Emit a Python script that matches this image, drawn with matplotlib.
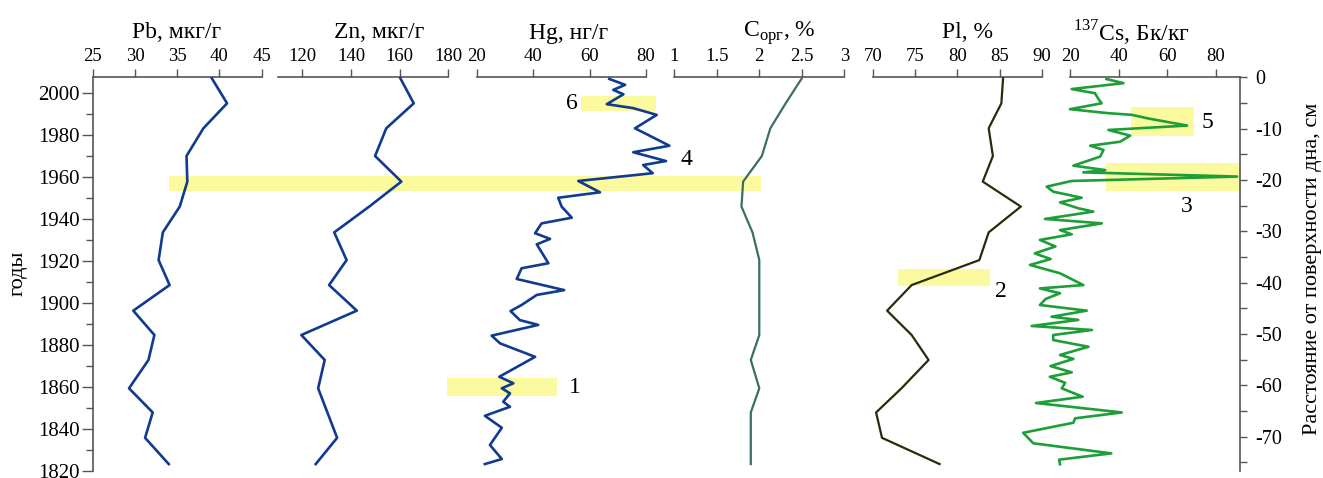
#----------------------------------------------------------------------
#  perfil de sedimento: Pb, Zn, Hg, C org, Pl, 137Cs x anos / profundidade
#----------------------------------------------------------------------
import matplotlib.pyplot as plt
from matplotlib.patches import Rectangle
import matplotlib.transforms as mtransforms

plt.rcParams['font.family'] = ['Liberation Serif', 'DejaVu Serif']
plt.rcParams['mathtext.fontset'] = 'custom'
plt.rcParams['mathtext.rm'] = 'Liberation Serif'
plt.rcParams['axes.unicode_minus'] = False

# amostras a cada 5 cm (anos lidos no eixo esquerdo)
anos_5cm = [2007.1, 1995.2, 1983.3, 1970.1, 1957.9, 1946.0, 1933.7, 1920.5,
            1908.6, 1896.4, 1884.8, 1872.9, 1859.4, 1847.9, 1835.8, 1823.3]
pb = [39.1, 40.9, 38.1, 36.1, 36.2, 35.3, 33.3, 32.8,
      34.1, 29.8, 32.3, 31.6, 29.3, 32.1, 31.2, 34.0]
zn = [160.3, 165.8, 154.5, 149.9, 160.7, 147.5, 133.1, 138.2,
      131.0, 142.4, 119.6, 129.2, 126.5, 130.3, 134.3, 125.5]
corg = [2.50, 2.31, 2.13, 2.03, 1.81, 1.79, 1.92, 2.00,
        2.00, 2.00, 2.00, 1.90, 2.00, 1.90, 1.90, 1.90]
pl = [85.4, 85.2, 83.7, 84.2, 83.0, 87.5, 83.7, 82.6,
      74.6, 71.7, 74.6, 76.6, 73.4, 70.4, 71.1, 77.9]

# mercurio
anos_hg = [2006.8, 2004.0, 2001.6, 1999.5, 1994.8, 1992.9, 1989.7, 1983.3,
           1975.0, 1971.9, 1967.7, 1965.8, 1961.9, 1958.2, 1952.8, 1950.2,
           1946.0, 1940.7, 1938.0, 1933.3, 1930.6, 1928.0, 1919.0, 1916.6,
           1911.5, 1906.2, 1903.9, 1899.1, 1896.2, 1891.9, 1889.6, 1884.5,
           1880.8, 1874.4, 1864.9, 1861.8, 1859.4, 1857.0, 1853.0, 1850.6,
           1846.3, 1840.6, 1832.4, 1825.7, 1823.3]
hg = [67.0, 72.6, 68.4, 72.0, 66.1, 75.5, 83.8, 76.1,
      88.3, 75.5, 87.1, 79.0, 82.4, 56.0, 63.7, 48.9,
      50.1, 53.7, 43.0, 40.7, 46.0, 41.3, 45.4, 35.9,
      34.2, 51.0, 41.3, 35.9, 32.0, 35.3, 41.8, 25.3,
      28.3, 40.7, 28.0, 33.0, 28.9, 31.8, 29.4, 31.8,
      22.9, 28.9, 24.7, 28.9, 22.9]

# cesio 137
anos_cs = [2006.8, 2004.8, 2002.0, 2000.0, 1997.3, 1995.2, 1992.4, 1990.5,
           1989.7, 1988.1, 1984.6, 1982.5, 1979.8, 1976.9, 1975.0, 1973.0,
           1969.8, 1965.5, 1963.4, 1962.3, 1960.3, 1958.2, 1955.5, 1953.1,
           1950.2, 1948.0, 1945.2, 1943.6, 1940.1, 1938.0, 1934.8, 1932.8,
           1930.1, 1927.0, 1923.7, 1921.0, 1918.2, 1914.2, 1908.6, 1907.0,
           1904.7, 1902.0, 1899.1, 1896.4, 1893.5, 1892.0, 1889.1, 1887.2,
           1884.8, 1882.4, 1879.2, 1875.3, 1873.4, 1870.0, 1867.0, 1864.9,
           1862.0, 1859.4, 1855.4, 1852.4, 1847.9, 1845.1, 1843.0, 1838.2,
           1833.2, 1828.4, 1825.4, 1823.2]
cs = [35.0, 42.0, 20.7, 30.3, 31.7, 33.0, 20.0, 35.8,
      45.5, 51.7, 68.2, 35.8, 44.8, 40.6, 28.3, 33.8,
      32.4, 21.4, 34.5, 25.5, 88.8, 20.7, 10.4, 13.1,
      24.8, 15.9, 23.4, 29.6, 9.7, 33.1, 15.9, 20.7,
      7.6, 14.0, 5.5, 12.0, 3.5, 15.9, 25.5, 7.6,
      15.9, 10.0, 7.6, 26.9, 12.4, 23.4, 4.2, 29.0,
      13.1, 13.1, 27.6, 15.9, 21.4, 12.0, 20.7, 11.7,
      18.0, 16.6, 25.2, 6.0, 41.3, 22.1, 21.4, 0.7,
      4.9, 37.0, 15.5, 15.9]

anos_lim = (1820, 2007.6)
prof_lim = (-76.7, 0)

azul = '#103b8e'
cinza = '#555555'
amarelo = '#fbfa9e'

W, H = 1323, 478
fig = plt.figure(figsize=(W / 100, H / 100), dpi=100)


def painel(x0, x1, xlim, xticks):
    ax = fig.add_axes([x0 / W, 1 - 471 / H, (x1 - x0) / W, (471 - 77.3) / H])
    ax.set_facecolor('none')
    for s in ['left', 'right', 'bottom']:
        ax.spines[s].set_visible(False)
    ax.spines['top'].set_color(cinza)
    ax.spines['top'].set_linewidth(1.2)
    ax.set_xlim(xlim)
    ax.set_ylim(anos_lim)
    ax.xaxis.tick_top()
    ax.set_xticks(xticks)
    ax.set_xticklabels([f'{t:g}' for t in xticks])
    ax.tick_params(axis='x', direction='out', length=6, width=1, color=cinza,
                   labelsize=13.5, pad=3)
    ax.set_yticks([])
    return ax


ax_pb = painel(92.7, 261.7, (25, 45), [25, 30, 35, 40, 45])
ax_zn = painel(278.0, 448.3, (110, 180), [120, 140, 160, 180])
ax_hg = painel(476.7, 646.0, (20, 80), [20, 40, 60, 80])
ax_c = painel(674.3, 844.3, (1, 3), [1, 1.5, 2, 2.5, 3])
ax_pl = painel(872.7, 1042.0, (70, 90), [70, 75, 80, 85, 90])
ax_cs = painel(1070.0, 1240.0, (20, 90), [20, 40, 60, 80])

# eixo dos anos (esquerda)
ax_pb.spines['left'].set_visible(True)
ax_pb.spines['left'].set_color(cinza)
ax_pb.spines['left'].set_linewidth(1.2)
ax_pb.set_yticks(range(1820, 2001, 20))
ax_pb.set_yticks(range(1830, 2001, 20), minor=True)
ax_pb.tick_params(axis='y', which='major', direction='out', length=8, width=1,
                  color=cinza, labelsize=15, pad=1.5)
ax_pb.tick_params(axis='y', which='minor', direction='out', length=5, width=1,
                  color=cinza)

# eixo da profundidade (direita)
ax_d = ax_cs.twinx()
ax_d.set_facecolor('none')
for s in ['left', 'top', 'bottom']:
    ax_d.spines[s].set_visible(False)
ax_d.spines['right'].set_color(cinza)
ax_d.spines['right'].set_linewidth(1.2)
ax_d.set_ylim(prof_lim)
ax_d.set_yticks(range(-70, 1, 10))
ax_d.set_yticks(range(-75, 0, 10), minor=True)
ax_d.tick_params(axis='y', which='both', direction='out', length=5, width=1,
                 color=cinza, labelsize=14.5, pad=6)

# curvas
ax_pb.plot(pb, anos_5cm, color=azul, lw=1.9, clip_on=False, zorder=3)
ax_zn.plot(zn, anos_5cm, color=azul, lw=1.9, clip_on=False, zorder=3)
ax_hg.plot(hg, anos_hg, color=azul, lw=1.9, clip_on=False, zorder=3)
ax_c.plot(corg, anos_5cm, color='#3b6d69', lw=1.6, clip_on=False, zorder=3)
ax_pl.plot(pl, anos_5cm, color='#2a2a0c', lw=1.6, clip_on=False, zorder=3)
ax_cs.plot(cs, anos_cs, color='#1e9e38', lw=1.9, clip_on=False, zorder=3)

# faixas amarelas
faixa = mtransforms.blended_transform_factory(fig.transFigure, ax_pb.transData)
ax_pb.add_patch(Rectangle((169 / W, 1953.6), (761 - 169) / W, 7.0, transform=faixa,
                          color=amarelo, lw=0, clip_on=False, zorder=0))
for ax, x0, x1, y0, y1 in [(ax_hg, 9.5, 48.5, 1855.9, 1864.3),
                           (ax_pl, 73.0, 83.9, 1908.2, 1916.3),
                           (ax_cs, 34.9, 89.4, 1953.6, 1966.9),
                           (ax_cs, 45.1, 71.2, 1979.6, 1993.6),
                           (ax_hg, 57.0, 83.6, 1991.6, 1998.9)]:
    ax.add_patch(Rectangle((x0, y0), x1 - x0, y1 - y0, color=amarelo, lw=0,
                           clip_on=False, zorder=0))

# numeros
for ax, x, y, t in [(ax_hg, 54.8, 1860.0, '1'), (ax_pl, 85.2, 1905.4, '2'),
                    (ax_cs, 68.2, 1946.0, '3'), (ax_hg, 94.4, 1968.2, '4'),
                    (ax_cs, 76.4, 1986.0, '5'), (ax_hg, 53.7, 1995.2, '6')]:
    ax.text(x, y, t, fontsize=17, ha='center', va='center', clip_on=False)

# titulos
for x, t in [(177, 'Pb, мкг/г'), (379, 'Zn, мкг/г'), (569, 'Hg, нг/г'),
             (779, r'C$_\mathregular{орг}$, %'), (968, 'Pl, %'),
             (1131, r'$^\mathregular{137}$Cs, Бк/кг')]:
    fig.text(x / W, 1 - 33 / H, t, fontsize=17, ha='center', va='center')

fig.text(18.5 / W, 1 - 273 / H, 'годы', fontsize=16, rotation=90,
         ha='center', va='center')
fig.text(1312 / W, 1 - 269 / H, 'Расстояние от поверхности дна, см', fontsize=16,
         rotation=90, ha='center', va='center')

plt.savefig('out.png', dpi=100)
